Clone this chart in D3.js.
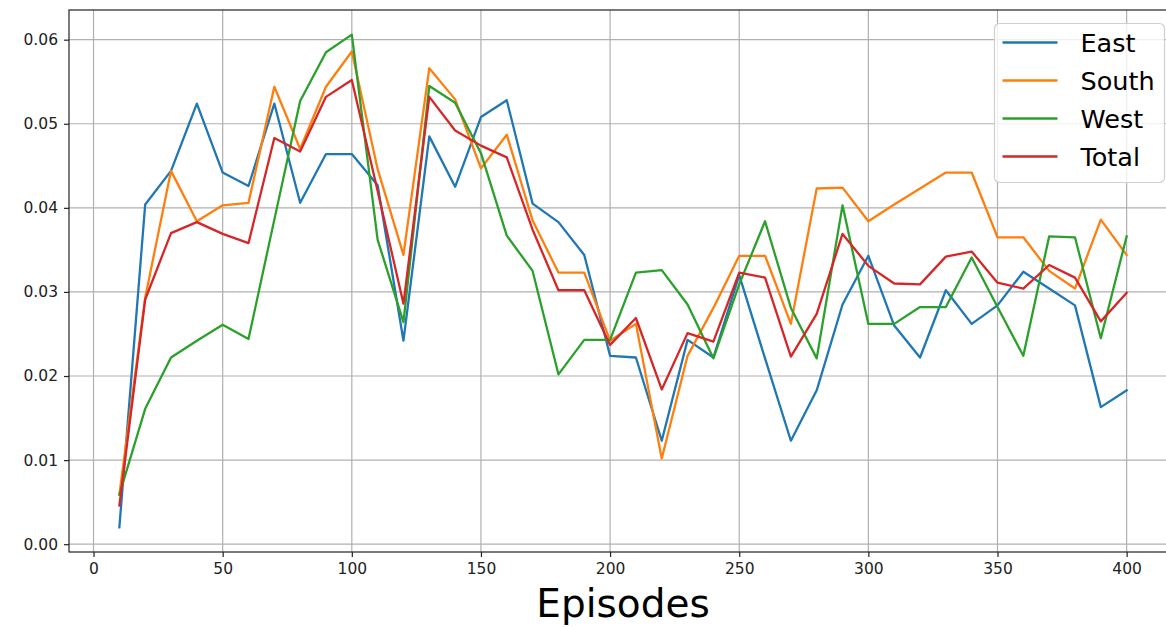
<!DOCTYPE html>
<html>
<head>
<meta charset="utf-8">
<script src="https://cdn.jsdelivr.net/npm/d3@7"></script>
<style>
  body { margin: 0; background: #fff; }
  svg { display: block; }
</style>
</head>
<body>
<div id="chart"></div>
<script>
// episodes 10..400
const episodes = [10, 20, 30, 40, 50, 60, 70, 80, 90, 100,
  110, 120, 130, 140, 150, 160, 170, 180, 190, 200,
  210, 220, 230, 240, 250, 260, 270, 280, 290, 300,
  310, 320, 330, 340, 350, 360, 370, 380, 390, 400];

const east = [0.0020, 0.0404, 0.0444, 0.0524, 0.0442, 0.0426, 0.0524, 0.0406, 0.0464, 0.0464,
  0.0427, 0.0242, 0.0485, 0.0425, 0.0508, 0.0528, 0.0405, 0.0383, 0.0344, 0.0224,
  0.0222, 0.0123, 0.0243, 0.0222, 0.0320, 0.0221, 0.0123, 0.0183, 0.0285, 0.0343,
  0.0260, 0.0222, 0.0302, 0.0262, 0.0284, 0.0324, 0.0304, 0.0284, 0.0163, 0.0183];

const south = [0.0059, 0.0293, 0.0444, 0.0384, 0.0403, 0.0406, 0.0544, 0.0470, 0.0544, 0.0586,
  0.0446, 0.0344, 0.0566, 0.0529, 0.0447, 0.0487, 0.0385, 0.0323, 0.0323, 0.0242,
  0.0262, 0.0102, 0.0224, 0.0281, 0.0343, 0.0343, 0.0262, 0.0423, 0.0424, 0.0384,
  0.0404, 0.0423, 0.0442, 0.0442, 0.0365, 0.0365, 0.0325, 0.0304, 0.0386, 0.0344];

const west = [0.0059, 0.0161, 0.0222, 0.0242, 0.0261, 0.0244, 0.0386, 0.0527, 0.0585, 0.0606,
  0.0362, 0.0264, 0.0545, 0.0525, 0.0465, 0.0367, 0.0325, 0.0202, 0.0243, 0.0243,
  0.0323, 0.0326, 0.0285, 0.0221, 0.0309, 0.0384, 0.0281, 0.0221, 0.0403, 0.0262,
  0.0262, 0.0282, 0.0282, 0.0341, 0.0282, 0.0224, 0.0366, 0.0365, 0.0245, 0.0366];

const total = [0.0046, 0.0291, 0.0370, 0.0383, 0.0369, 0.0358, 0.0483, 0.0467, 0.0532, 0.0552,
  0.0420, 0.0286, 0.0532, 0.0492, 0.0474, 0.0460, 0.0374, 0.0302, 0.0302, 0.0237,
  0.0269, 0.0184, 0.0251, 0.0241, 0.0323, 0.0317, 0.0223, 0.0274, 0.0369, 0.0331,
  0.0310, 0.0309, 0.0342, 0.0348, 0.0311, 0.0304, 0.0332, 0.0317, 0.0265, 0.0299];

const seriesNames = ["East", "South", "West", "Total"];
const seriesColors = ["#1f77b4", "#ff7f0e", "#2ca02c", "#d62728"];
const xTicks = [0, 50, 100, 150, 200, 250, 300, 350, 400];
const yTicks = [0, 0.01, 0.02, 0.03, 0.04, 0.05, 0.06];

const series = [east, south, west, total].map((values, i) => ({
  name: seriesNames[i],
  color: seriesColors[i],
  values: values.map((v, j) => ({x: episodes[j], y: v}))
}));

const width = 1166, height = 627;
// axes box (right edge falls just outside the picture, as in the original)
const axLeft = 69, axRight = 1177, axTop = 10, axBottom = 552;

// matplotlib-style 5% margins
const xMin = d3.min(episodes), xMax = d3.max(episodes);
const allY = [].concat(east, south, west, total);
const yMin = d3.min(allY), yMax = d3.max(allY);
const xPad = (xMax - xMin) * 0.05, yPad = (yMax - yMin) * 0.05;

const x = d3.scaleLinear().domain([xMin - xPad, xMax + xPad]).range([axLeft, axRight]);
const y = d3.scaleLinear().domain([yMin - yPad, yMax + yPad]).range([axBottom, axTop]);

const svg = d3.select("#chart").append("svg")
  .attr("width", width)
  .attr("height", height)
  .attr("font-family", "DejaVu Sans, sans-serif");

// grid
svg.append("g")
  .selectAll("line")
  .data(xTicks)
  .join("line")
  .attr("x1", d => x(d)).attr("x2", d => x(d))
  .attr("y1", axTop).attr("y2", axBottom)
  .attr("stroke", "#b0b0b0")
  .attr("stroke-width", 1.2);

svg.append("g")
  .selectAll("line")
  .data(yTicks)
  .join("line")
  .attr("x1", axLeft).attr("x2", axRight)
  .attr("y1", d => y(d)).attr("y2", d => y(d))
  .attr("stroke", "#b0b0b0")
  .attr("stroke-width", 1.2);

// lines
const line = d3.line().x(d => x(d.x)).y(d => y(d.y));

svg.append("g")
  .selectAll("path")
  .data(series)
  .join("path")
  .attr("d", d => line(d.values))
  .attr("fill", "none")
  .attr("stroke", d => d.color)
  .attr("stroke-width", 2.3)
  .attr("stroke-linejoin", "round")
  .attr("stroke-linecap", "square");

// axes
const xAxis = svg.append("g")
  .attr("transform", `translate(0,${axBottom})`)
  .call(d3.axisBottom(x).tickValues(xTicks).tickSize(5).tickPadding(6).tickFormat(d3.format("d")));

const yAxis = svg.append("g")
  .attr("transform", `translate(${axLeft},0)`)
  .call(d3.axisLeft(y).tickValues(yTicks).tickSize(5).tickPadding(6).tickFormat(d3.format(".2f")));

[xAxis, yAxis].forEach(g => {
  g.select(".domain").remove();
  g.selectAll(".tick line").attr("stroke", "#222").attr("stroke-width", 1.2);
  g.selectAll(".tick text")
    .attr("fill", "#222")
    .attr("font-size", 15.5)
    .attr("font-family", "DejaVu Sans, sans-serif");
});

// spines
svg.append("rect")
  .attr("x", axLeft).attr("y", axTop)
  .attr("width", axRight - axLeft).attr("height", axBottom - axTop)
  .attr("fill", "none")
  .attr("stroke", "#222")
  .attr("stroke-width", 1.2);

// x label
svg.append("text")
  .attr("x", (axLeft + axRight) / 2)
  .attr("y", 617)
  .attr("text-anchor", "middle")
  .attr("font-size", 39)
  .attr("fill", "#000")
  .text("Episodes");

// legend
const lg = svg.append("g").attr("transform", "translate(994.5,23.5)");
lg.append("rect")
  .attr("width", 170).attr("height", 159)
  .attr("rx", 5)
  .attr("fill", "#fff").attr("fill-opacity", 0.8)
  .attr("stroke", "#d0d0d0").attr("stroke-width", 1.2);

const item = lg.selectAll("g.item")
  .data(series)
  .join("g")
  .attr("class", "item")
  .attr("transform", (d, i) => `translate(0,${19 + i * 38})`);

item.append("line")
  .attr("x1", 8).attr("x2", 63)
  .attr("stroke", d => d.color)
  .attr("stroke-width", 2.3);

item.append("text")
  .attr("x", 86)
  .attr("dy", "0.36em")
  .attr("font-size", 25.5)
  .attr("fill", "#000")
  .text(d => d.name);
</script>
</body>
</html>
